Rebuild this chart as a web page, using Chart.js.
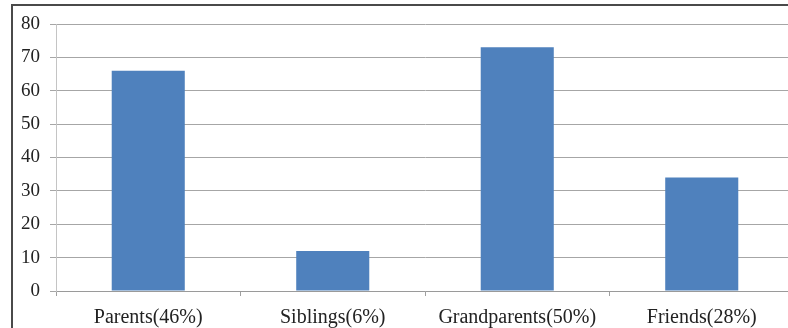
<!DOCTYPE html>
<html>
<head>
<meta charset="utf-8">
<script src="https://cdn.jsdelivr.net/npm/chart.js@4"></script>
<style>
  html, body { margin: 0; padding: 0; background: #fff; }
  #wrap { position: relative; width: 788px; height: 328px; overflow: hidden; }
  #box { position: absolute; left: 0; top: 0; width: 800px; height: 340px; }
</style>
</head>
<body>
<div id="wrap"><div id="box"><canvas id="c" width="800" height="340"></canvas></div></div>
<script>
const categories = ['Parents(46%)', 'Siblings(6%)', 'Grandparents(50%)', 'Friends(28%)'];
const values = [66, 12, 73, 34];
const yTicks = [0, 10, 20, 30, 40, 50, 60, 70, 80];

// Outer frame around the whole figure
const framePlugin = {
  id: 'frame',
  afterDraw(chart) {
    const ctx = chart.ctx;
    ctx.save();
    ctx.strokeStyle = '#4a4a4a';
    ctx.lineWidth = 2;
    ctx.strokeRect(12, 5, 800, 340);
    ctx.restore();
  }
};

new Chart(document.getElementById('c'), {
  type: 'bar',
  data: {
    labels: categories,
    datasets: [{
      data: values,
      backgroundColor: '#4f81bd',
      borderWidth: 0,
      categoryPercentage: 1,
      barPercentage: 0.396
    }]
  },
  options: {
    responsive: false,
    animation: false,
    devicePixelRatio: 1,
    layout: { padding: { left: 0, top: 24, right: 6, bottom: 0 } },
    plugins: { legend: { display: false }, tooltip: { enabled: false } },
    scales: {
      x: {
        offset: true,
        afterFit(scale) { scale.height = 49; },
        grid: {
          offset: true,
          drawOnChartArea: false,
          drawTicks: true,
          tickLength: 5,
          color: '#a0a0a0'
        },
        border: { display: true, color: '#9a9a9a', width: 1 },
        ticks: {
          padding: 10,
          color: '#222',
          font: { family: '"Liberation Serif", "Times New Roman", serif', size: 20 }
        }
      },
      y: {
        min: 0,
        max: 80,
        afterFit(scale) { scale.width = 56; },
        afterBuildTicks(scale) { scale.ticks = yTicks.map(v => ({ value: v })); },
        grid: {
          color: '#a6a6a6',
          lineWidth: 1,
          drawTicks: true,
          tickLength: 6
        },
        border: { display: true, color: '#c4c4c4', width: 1 },
        ticks: {
          padding: 10,
          color: '#222',
          font: { family: '"Liberation Serif", "Times New Roman", serif', size: 19 }
        }
      }
    }
  },
  plugins: [framePlugin]
});
</script>
</body>
</html>
